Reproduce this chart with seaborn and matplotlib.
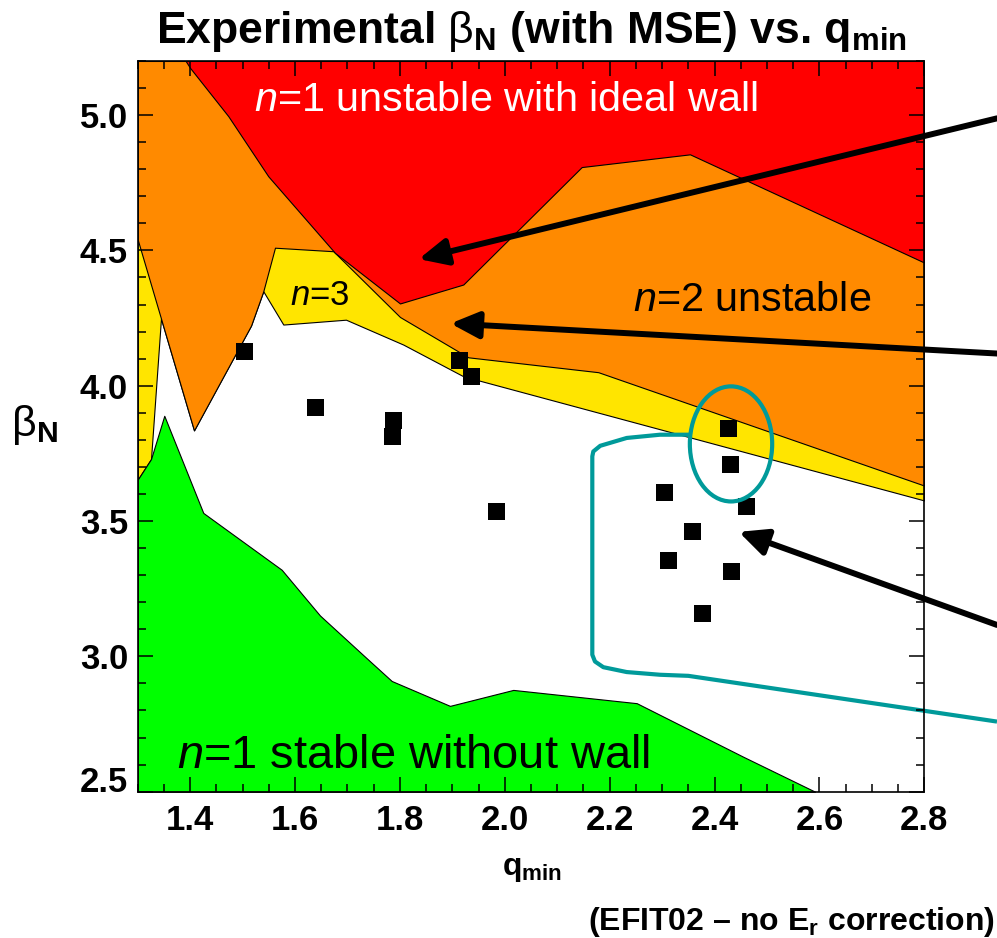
import matplotlib
matplotlib.use("Agg")
import matplotlib.pyplot as plt
from matplotlib.patches import Ellipse
from matplotlib.ticker import FixedLocator
import seaborn as sns

# ---------------- data ----------------
# lower boundary of the n=3 unstable (yellow) region
yellow_q = [1.300, 1.3254, 1.3444, 1.4074, 1.5161, 1.5395, 1.5777, 1.6972, 1.8065, 1.9209, 2.800]
yellow_beta = [3.653, 3.729, 4.248, 3.835, 4.222, 4.349, 4.226, 4.244, 4.152, 4.035, 3.576]

# lower boundary of the n=2 unstable (orange) region
orange_q = [1.300, 1.4074, 1.5161, 1.5395, 1.5618, 1.6730, 1.8002, 1.9304, 2.1783, 2.800]
orange_beta = [4.540, 3.835, 4.222, 4.349, 4.510, 4.497, 4.254, 4.105, 4.050, 3.631]

# lower boundary of the n=1 unstable with ideal wall (red) region
red_q = [1.3915, 1.3997, 1.4728, 1.5490, 1.6762, 1.8002, 1.9209, 2.1467, 2.3532, 2.800]
red_beta = [5.200, 5.175, 4.996, 4.774, 4.491, 4.304, 4.374, 4.808, 4.855, 4.455]

# upper boundary of the n=1 stable without wall (green) region
green_q = [1.300, 1.3254, 1.3507, 1.4251, 1.5746, 1.6476, 1.7367, 1.7844, 1.8955,
           2.0162, 2.2516, 2.4548, 2.5916]
green_beta = [3.653, 3.729, 3.889, 3.530, 3.320, 3.151, 2.993, 2.909, 2.817,
              2.876, 2.827, 2.629, 2.500]

# experimental points
q_exp = [1.503, 1.640, 1.788, 1.785, 1.913, 1.937, 1.985, 2.426, 2.430, 2.304,
         2.461, 2.358, 2.312, 2.433, 2.377]
beta_exp = [4.125, 3.920, 3.871, 3.813, 4.093, 4.035, 3.535, 3.841, 3.708, 3.605,
            3.552, 3.462, 3.354, 3.314, 3.160]

# teal bracket path
teal_q = [2.3532, 2.2960, 2.2325, 2.1820, 2.1688, 2.1669, 2.1669, 2.1720, 2.1879,
          2.2325, 2.2960, 2.3500, 2.9386]
teal_beta = [3.819, 3.819, 3.807, 3.778, 3.757, 3.739, 3.006, 2.981, 2.960,
             2.942, 2.932, 2.928, 2.759]
ellipse_center = (2.4314, 3.785)
ellipse_size = (0.157, 0.4253)

# arrows: (tail q, tail beta, tip q, tip beta)
arrow_tail_q = [2.9386, 2.9386, 2.9386]
arrow_tail_beta = [4.988, 4.119, 3.116]
arrow_tip_q = [1.8359, 1.8965, 2.4461]
arrow_tip_beta = [4.468, 4.230, 3.460]

x_ticks = [1.4, 1.6, 1.8, 2.0, 2.2, 2.4, 2.6, 2.8]
x_ticklabels = ["1.4", "1.6", "1.8", "2.0", "2.2", "2.4", "2.6", "2.8"]
y_ticks = [2.5, 3.0, 3.5, 4.0, 4.5, 5.0]
y_ticklabels = ["2.5", "3.0", "3.5", "4.0", "4.5", "5.0"]
x_minor = [1.3 + 0.05 * i for i in range(31)]
y_minor = [2.5 + 0.1 * i for i in range(28)]

# ---------------- style ----------------
RED = "#FF0000"
ORANGE = "#FF8A00"
YELLOW = "#FFE500"
GREEN = "#00FF00"
TEAL = "#009A9A"
XMIN, XMAX, YMIN, YMAX = 1.3, 2.8, 2.5, 5.2

sns.set_theme(style="white")
plt.rcParams["font.family"] = ["Liberation Sans", "DejaVu Sans"]
plt.rcParams["mathtext.fontset"] = "custom"
plt.rcParams["mathtext.rm"] = "Liberation Sans"
plt.rcParams["mathtext.it"] = "Liberation Sans:italic"
plt.rcParams["mathtext.bf"] = "Liberation Sans:bold"
plt.rcParams["axes.edgecolor"] = "black"
plt.rcParams["text.color"] = "black"
plt.rcParams["xtick.color"] = "black"
plt.rcParams["ytick.color"] = "black"

fig = plt.figure(figsize=(9.97, 9.38), dpi=100)
ax = fig.add_axes([0.1381, 0.1560, 0.7890, 0.7790])
ax.set_facecolor("white")

edge = dict(edgecolor="black", linewidth=0.8)
ax.fill_between(yellow_q, yellow_beta, YMAX, facecolor=YELLOW, zorder=0.5, **edge)
ax.fill_between(orange_q, orange_beta, YMAX, facecolor=ORANGE, zorder=0.6, **edge)
ax.fill_between(red_q, red_beta, YMAX, facecolor=RED, zorder=0.7, **edge)
ax.fill_between(green_q, YMIN, green_beta, facecolor=GREEN, zorder=0.7, **edge)

sns.scatterplot(x=q_exp, y=beta_exp, marker="s", s=150, color="black",
                linewidth=0, edgecolor="none", ax=ax, zorder=5, legend=False)

ax.add_patch(Ellipse(ellipse_center, ellipse_size[0], ellipse_size[1], fill=False,
                     edgecolor=TEAL, linewidth=3.0, zorder=6))
ax.plot(teal_q, teal_beta, color=TEAL, lw=3.0, clip_on=False, zorder=6,
        solid_joinstyle="round", solid_capstyle="butt")

for tq, tb, hq, hb in zip(arrow_tail_q, arrow_tail_beta, arrow_tip_q, arrow_tip_beta):
    ax.annotate("", xy=(hq, hb), xytext=(tq, tb), xycoords="data",
                annotation_clip=False, zorder=7,
                arrowprops=dict(arrowstyle="-|>,head_length=0.85,head_width=0.4",
                                lw=4.3, color="black", shrinkA=0, shrinkB=0,
                                mutation_scale=20))

ax.set_xlim(XMIN, XMAX)
ax.set_ylim(YMIN, YMAX)
ax.set_xticks(x_ticks)
ax.set_xticklabels(x_ticklabels, fontweight="bold", fontsize=25, color="black")
ax.set_yticks(y_ticks)
ax.set_yticklabels(y_ticklabels, fontweight="bold", fontsize=25, color="black")
ax.xaxis.set_minor_locator(FixedLocator(x_minor))
ax.yaxis.set_minor_locator(FixedLocator(y_minor))
ax.tick_params(which="both", direction="in", top=True, right=True, bottom=True,
               left=True, color="black", labelcolor="black", width=1.1)
ax.tick_params(which="major", length=11)
ax.tick_params(which="minor", length=5.5)
ax.tick_params(axis="x", which="major", pad=9)
ax.tick_params(axis="y", which="major", pad=7)
ax.xaxis.set_zorder(10)
ax.yaxis.set_zorder(10)
ax.yaxis.get_major_ticks()[0].label1.set_verticalalignment("baseline")
for s in ax.spines.values():
    s.set_color("black")
    s.set_linewidth(1.2)
    s.set_zorder(11)

# region labels
ax.text(2.002, 5.015, r"$\mathit{n}$=1 unstable with ideal wall", color="white",
        fontsize=29.8, ha="center", va="baseline", zorder=8)
ax.text(1.6476, 4.300, r"$\mathit{n}$=3", color="black", fontsize=25,
        ha="center", va="baseline", zorder=8)
ax.text(2.4724, 4.275, r"$\mathit{n}$=2 unstable", color="black", fontsize=29.8,
        ha="center", va="baseline", zorder=8)
ax.text(1.8256, 2.5865, r"$\mathit{n}$=1 stable without wall", color="black",
        fontsize=33.8, ha="center", va="baseline", zorder=8)

fig.text(0.5326, 0.9538, r"Experimental $\mathrm{\beta}_\mathbf{N}$ (with MSE) vs. q$_\mathbf{min}$",
         fontsize=32, fontweight="bold", ha="center", va="baseline")
fig.text(0.035, 0.547, r"$\mathrm{\beta}_\mathbf{N}$", fontsize=31, ha="center", va="center")
fig.text(0.5333, 0.0672, r"q$_\mathbf{min}$", fontsize=23, fontweight="bold",
         ha="center", va="baseline")
fig.text(0.998, 0.0085, r"(EFIT02 – no E$_\mathbf{r}$ correction)", fontsize=23,
         fontweight="bold", ha="right", va="baseline")

fig.savefig("out.png", dpi=100)
